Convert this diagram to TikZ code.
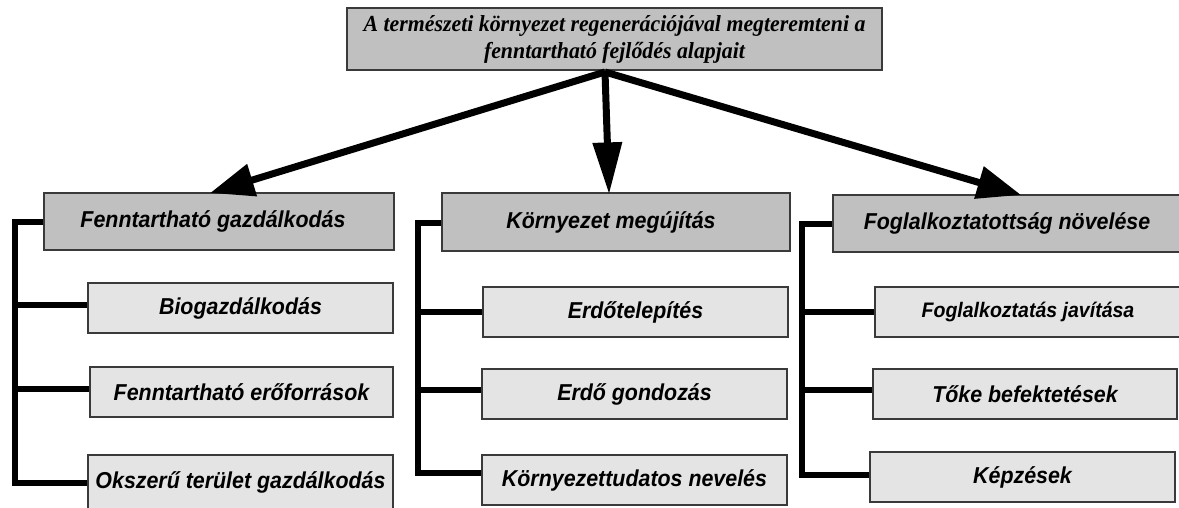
\documentclass[tikz,border=0pt]{standalone}
\usepackage{fontspec}
\setmainfont{Liberation Serif}[FakeStretch=0.95]
\newfontfamily\boxfont{Liberation Sans}[FakeStretch=0.93]
\usetikzlibrary{arrows.meta,calc}

\definecolor{headgray}{HTML}{C0C0C0}
\definecolor{subgray}{HTML}{E4E4E4}
\definecolor{edgegray}{HTML}{3A3A3A}

\tikzset{
  goalbox/.style={draw=edgegray, line width=1.3pt, fill=headgray, inner sep=0pt,
    align=center, font=\fontsize{23}{27}\selectfont\bfseries\itshape},
  headbox/.style={draw=edgegray, line width=1.2pt, fill=headgray, inner sep=0pt,
    font=\boxfont\fontsize{23}{26}\selectfont\bfseries\itshape},
  subbox/.style={draw=edgegray, line width=1.2pt, fill=subgray, inner sep=0pt,
    font=\boxfont\fontsize{23}{26}\selectfont\bfseries\itshape},
  bigarrow/.style={line width=7pt, -{Triangle[length=44pt,width=32pt]}, shorten >=-2pt},
  bracket/.style={line width=6pt, line join=miter, line cap=butt}
}

% place a box by its corners (x1,y1) and (x2,y2), y measured downwards
\newcommand{\cornerbox}[7]{%
  \node[#1, minimum width={#5-#3}, minimum height={#6-#4}] (#2)
    at ({(#3+#5)/2},{(#4+#6)/2}) {#7};}

\begin{document}
\begin{tikzpicture}[x=1pt,y=-1pt]
\useasboundingbox (0,0) rectangle (1179,507);

% goal
\cornerbox{goalbox}{goal}{347}{8}{882}{70}{A természeti környezet regenerációjával megteremteni a\\fenntartható fejlődés alapjait}

% main directions
\cornerbox{headbox}{A}{44}{193}{394}{250}{\hspace*{-12pt}Fenntartható gazdálkodás}
\cornerbox{headbox}{B}{442}{193}{790}{251}{\hspace*{-10pt}Környezet megújítás}
\cornerbox{headbox}{C}{833}{195}{1181}{252}{Foglalkoztatottság növelése}

% measures
\cornerbox{subbox}{A1}{88}{283}{393}{333}{Biogazdálkodás}
\cornerbox{subbox}{A2}{90}{367}{393}{417}{Fenntartható erőforrások}
\cornerbox{subbox}{A3}{88}{455}{393}{511}{\raisebox{5pt}{Okszerű terület gazdálkodás}}
\cornerbox{subbox}{B1}{483}{287}{788}{337}{Erdőtelepítés}
\cornerbox{subbox}{B2}{482}{369}{787}{419}{Erdő gondozás}
\cornerbox{subbox}{B3}{482}{455}{787}{505}{Környezettudatos nevelés}
\cornerbox{subbox}{C1}{875}{287}{1181}{337}{\fontsize{21}{24}\selectfont Foglalkoztatás javítása}
\cornerbox{subbox}{C2}{873}{369}{1177}{419}{Tőke befektetések}
\cornerbox{subbox}{C3}{870}{452}{1175}{502}{Képzések}

% arrows from the goal
\coordinate (apex) at (605,72);
\draw[bigarrow] (apex) -- ($(A.north west)!0.48!(A.north east)$);
\draw[bigarrow, -{Triangle[length=52pt,width=28pt]}] (apex) -- ($(B.north west)!0.48!(B.north east)$);
\draw[bigarrow] (apex) -- ($(C.north west)!0.535!(C.north east)$);

% brackets
\coordinate (spA) at (15,0);
\coordinate (spB) at (418,0);
\coordinate (spC) at (802,0);

\draw[bracket] (A.west) -- (A.west -| spA) -- (A3.west -| spA) -- (A3.west);
\draw[bracket] ([yshift=3pt]A1.west) -- ([yshift=3pt]A1.west -| spA);
\draw[bracket] ([yshift=3pt]A2.west) -- ([yshift=3pt]A2.west -| spA);

\draw[bracket] ([yshift=-1pt]B.west) -- ([yshift=-1pt]B.west -| spB) -- ([yshift=7pt]B3.west -| spB) -- ([yshift=7pt]B3.west);
\draw[bracket] (B1.west) -- (B1.west -| spB);
\draw[bracket] ([yshift=4pt]B2.west) -- ([yshift=4pt]B2.west -| spB);

\draw[bracket] (C.west) -- (C.west -| spC) -- ([yshift=2pt]C3.west -| spC) -- ([yshift=2pt]C3.west);
\draw[bracket] (C1.west) -- (C1.west -| spC);
\draw[bracket] ([yshift=4pt]C2.west) -- ([yshift=4pt]C2.west -| spC);
\end{tikzpicture}
\end{document}
